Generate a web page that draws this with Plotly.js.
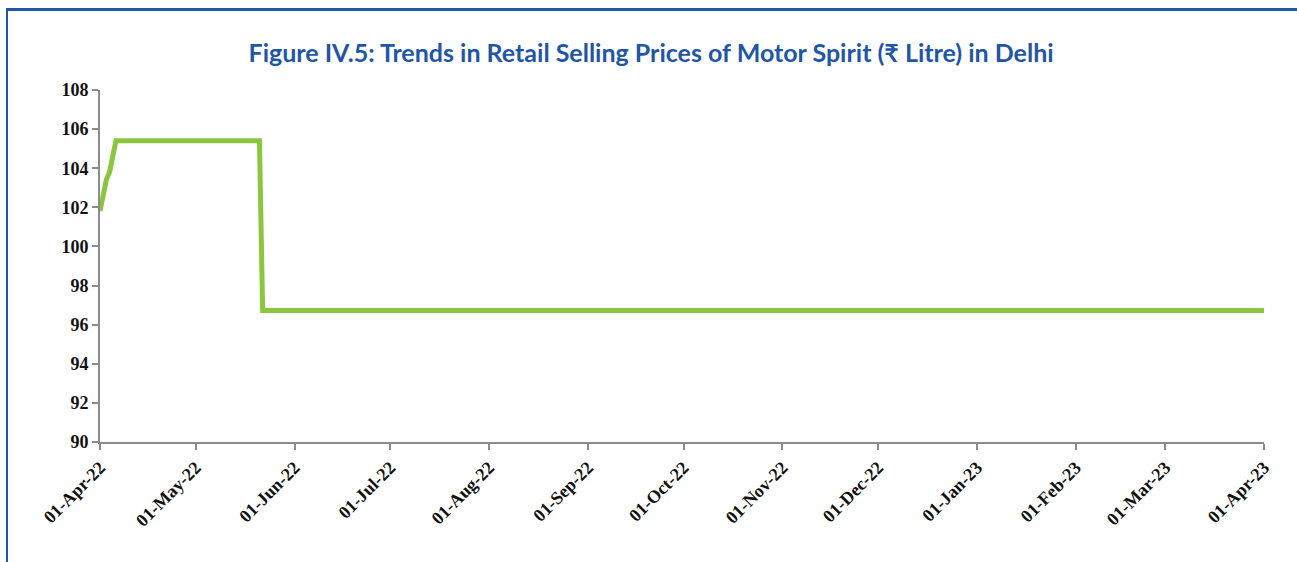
<!DOCTYPE html>
<html><head><meta charset="utf-8">
<script src="https://cdn.plot.ly/plotly-3.0.1.min.js"></script>
<style>html,body{margin:0;padding:0;background:#fff;overflow:hidden}
#frame{position:absolute;left:6px;top:8px;width:1400px;height:700px;border-top:3px solid #1f56a6;border-left:2px solid #1f56a6;pointer-events:none}
</style></head>
<body><div id="chart" style="width:1297px;height:562px"></div><div id="frame"></div>
<script>
const dates = ['2022-04-01','2022-04-02','2022-04-03','2022-04-04','2022-04-05','2022-04-06','2022-05-21','2022-05-22','2023-04-01'];
const prices = [101.81,102.61,103.41,103.81,104.61,105.41,105.41,96.72,96.72];
const tickDates = ['2022-04-01','2022-05-01','2022-06-01','2022-07-01','2022-08-01','2022-09-01','2022-10-01','2022-11-01','2022-12-01','2023-01-01','2023-02-01','2023-03-01','2023-04-01'];
const tickLabels = ['01-Apr-22','01-May-22','01-Jun-22','01-Jul-22','01-Aug-22','01-Sep-22','01-Oct-22','01-Nov-22','01-Dec-22','01-Jan-23','01-Feb-23','01-Mar-23','01-Apr-23'];
const yTicks = [90,92,94,96,98,100,102,104,106,108];

const trace = {x: dates, y: prices, type:'scatter', mode:'lines', line:{color:'#8cc63f', width:5}, hoverinfo:'x+y'};
const tickFont = {family:'Liberation Serif, Times New Roman, serif', size:18, color:'#111', weight:'bold'};
const layout = {
  width:1297, height:562,
  margin:{l:100, r:33, t:90, b:120},
  paper_bgcolor:'#fff', plot_bgcolor:'#fff',
  showlegend:false,
  title:{text:'<b>Figure IV.5: Trends in Retail Selling Prices of Motor Spirit (₹ Litre) in Delhi</b>', x:0.502, xanchor:'center', y:0.905, yanchor:'middle', font:{family:'Lato, Open Sans, sans-serif', size:25, color:'#1f56a6', weight:900}},
  xaxis:{type:'date', range:['2022-04-01','2023-04-01'], tickmode:'array', tickvals:tickDates, ticktext:tickLabels, tickangle:-45,
    showgrid:false, zeroline:false, showline:true, linecolor:'#8c8c8c', linewidth:2, ticks:'outside', ticklen:6, tickwidth:2, tickcolor:'#8c8c8c', tickfont:tickFont},
  yaxis:{range:[90,108], tickmode:'array', tickvals:yTicks, showgrid:false, zeroline:false, showline:true, linecolor:'#8c8c8c', linewidth:2,
    ticks:'outside', ticklen:6, tickwidth:2, tickcolor:'#8c8c8c', tickfont:tickFont}
};
Plotly.newPlot('chart',[trace],layout,{displayModeBar:false, staticPlot:true});
</script></body></html>
